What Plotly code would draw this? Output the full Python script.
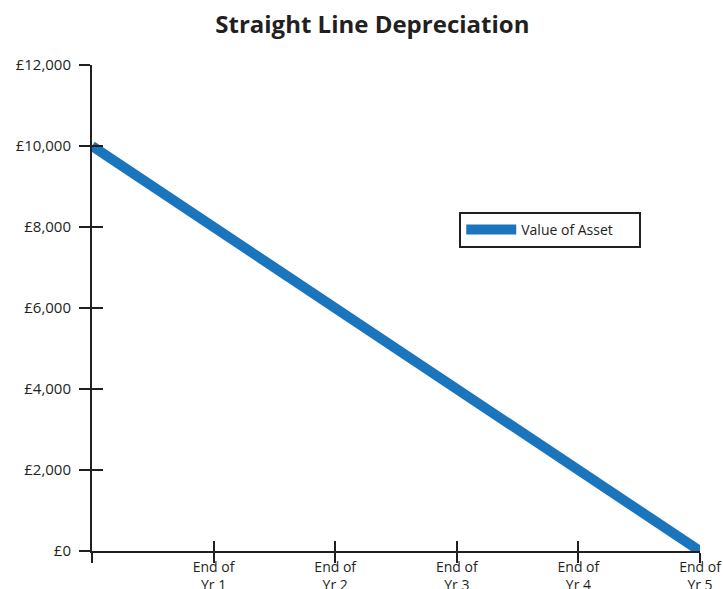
import plotly.graph_objects as go

periods = [0, 1, 2, 3, 4, 5]
period_labels = ["", "End of<br>Yr 1", "End of<br>Yr 2", "End of<br>Yr 3", "End of<br>Yr 4", "End of<br>Yr 5"]
asset_value = [10000, 8000, 6000, 4000, 2000, 0]
y_ticks = [0, 2000, 4000, 6000, 8000, 10000, 12000]
y_tick_labels = ["£0", "£2,000", "£4,000", "£6,000", "£8,000", "£10,000", "£12,000"]

ink = "#231F20"
blue = "#1B75BC"
font = "Open Sans"

fig = go.Figure()
fig.add_trace(go.Scatter(
    x=periods, y=asset_value, mode="lines", name="Value of Asset",
    line=dict(color=blue, width=10), cliponaxis=False,
))
# invisible trace to activate the overlay axes (other half of the crossing ticks)
fig.add_trace(go.Scatter(x=periods, y=asset_value, xaxis="x2", yaxis="y2",
                         mode="lines", line=dict(width=0), showlegend=False, hoverinfo="skip"))

common_x = dict(range=[0, 5], tickvals=periods, showgrid=False, zeroline=False, automargin=False,
                showline=True, linecolor=ink, linewidth=2, ticklen=10, tickwidth=2, tickcolor=ink)
common_y = dict(range=[0, 12000], tickvals=y_ticks, showgrid=False, zeroline=False, automargin=False,
                showline=True, linecolor=ink, linewidth=2, ticklen=11, tickwidth=2, tickcolor=ink)

fig.update_layout(
    width=723, height=589,
    margin=dict(l=92, r=23, t=65, b=38),
    paper_bgcolor="white", plot_bgcolor="white",
    font=dict(family=font, size=15, color=ink),
    title=dict(text="<b>Straight Line Depreciation</b>", x=0.515, xanchor="center",
               y=0.958, yanchor="middle", font=dict(size=24, color=ink, family=font)),
    xaxis=dict(**common_x, ticks="inside", ticktext=period_labels, ticklabelstandoff=2,
               ticklabeloverflow="allow", tickfont=dict(size=14, color=ink)),
    yaxis=dict(**common_y, ticks="outside", ticktext=y_tick_labels, ticklabelstandoff=5,
               tickfont=dict(size=15, color=ink)),
    xaxis2=dict(**common_x, ticks="outside", overlaying="x", showticklabels=False, anchor="y2"),
    yaxis2=dict(**common_y, ticks="inside", overlaying="y", showticklabels=False, anchor="x2"),
    legend=dict(x=0.604, y=0.6975, xanchor="left", yanchor="top", orientation="h",
                bordercolor=ink, borderwidth=2, bgcolor="white",
                font=dict(size=14, color=ink, family=font),
                itemwidth=50, entrywidth=113),
    showlegend=True,
)

fig.write_html(
    "out.html",
    config={"displayModeBar": False},
    post_script="document.body.style.margin='0';document.body.style.overflow='hidden';",
)
